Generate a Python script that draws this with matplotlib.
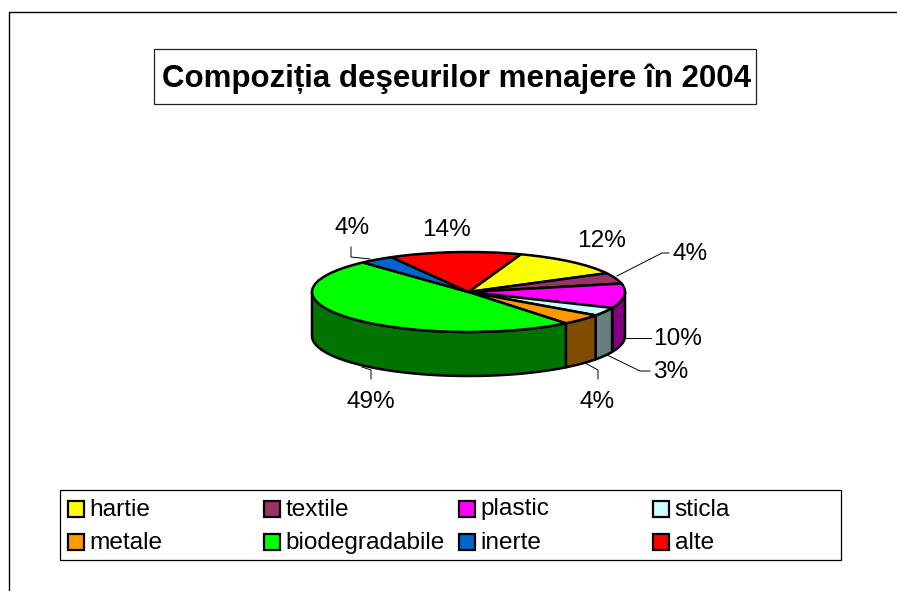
import numpy as np
import matplotlib
matplotlib.use("Agg")
import matplotlib.pyplot as plt
from matplotlib.patches import Rectangle

plt.rcParams['font.family'] = ['Liberation Sans', 'DejaVu Sans']

W, H = 897, 591

title = "Compoziția deşeurilor menajere în 2004"
categories = ["hartie", "textile", "plastic", "sticla",
              "metale", "biodegradabile", "inerte", "alte"]
values = [11.8, 4.4, 9.9, 3.4, 4.4, 48.9, 3.6, 13.6]
colors = ["#FFFF00", "#993366", "#FF00FF", "#CCFFFF",
          "#FF9900", "#00FF00", "#0066CC", "#FF0000"]
side_colors = ["#808000", "#4D1A33", "#800080", "#668080",
               "#804D00", "#007300", "#003366", "#800000"]

# position of the labels, in pixels of the image
label_pos = [(602, 241), (690, 254), (678, 339), (671, 372),
             (597, 402), (371, 402), (352, 228), (447, 230)]
leaders = [None,
           [(617, 276), (662, 253), (669, 253)],
           [(625, 338), (651, 338)],
           [(607, 355), (640, 371), (650, 371)],
           [(585, 363), (598, 370), (598, 379)],
           [(362, 367), (371, 370), (371, 379)],
           [(370, 259), (351, 257), (351, 247)],
           None]

fig = plt.figure(figsize=(W / 100, H / 100), dpi=100)

# overlay in pixel coordinates for frame, title, labels and legend
bg = fig.add_axes([0, 0, 1, 1], zorder=0)
bg.set_xlim(0, W)
bg.set_ylim(H, 0)
bg.axis("off")

over = fig.add_axes([0, 0, 1, 1], zorder=2)
over.set_xlim(0, W)
over.set_ylim(H, 0)
over.axis("off")

bg.plot([9, 9, W], [H, 12, 12], color="black", lw=1)
bg.add_patch(Rectangle((154, 49), 602, 55, fc="white", ec="#222222", lw=0.9))
bg.text(456, 78.5, title, fontsize=22.5, fontweight="bold", ha="center", va="center")

# pie: top ellipse is 313 x 80 px, side is 44 px deep
cx, cy, rx, ry, depth = 468.5, 292, 156.5, 40, 44
ax = fig.add_axes([(cx - rx - 5) / W, 1 - (cy + ry + depth + 5) / H,
                   (2 * rx + 10) / W, (2 * ry + depth + 10) / H], zorder=1)
ax.patch.set_alpha(0)

start = 19.5
d = depth / ry
edges = start + np.cumsum([0] + values) * 3.6
for i in range(len(values)):
    # side wall only on the front half (90..270 deg clockwise from top)
    a0, a1 = max(edges[i], 90), min(edges[i + 1], 270)
    if a1 <= a0:
        continue
    t = np.radians(np.linspace(a0, a1, 80))
    xs = np.concatenate([np.sin(t), np.sin(t[::-1])])
    ys = np.concatenate([np.cos(t), np.cos(t[::-1]) - d])
    ax.fill(xs, ys, fc=side_colors[i], ec="black", lw=1.8, joinstyle="round")

wedges, _ = ax.pie(values, colors=colors, startangle=90 - start, counterclock=False,
                   radius=1, wedgeprops=dict(edgecolor="black", linewidth=1.8))
for w in wedges:
    w.set_clip_on(False)
ax.set_aspect("auto")
ax.set_xlim(-1 - 5 / rx, 1 + 5 / rx)
ax.set_ylim(-1 - d - 5 / ry, 1 + 5 / ry)
ax.axis("off")

# percent labels and leader lines
for v, pos, line in zip(values, label_pos, leaders):
    over.text(pos[0], pos[1], f"{v:.0f}%", fontsize=17.6, ha="center", va="center")
    if line:
        over.plot([p[0] for p in line], [p[1] for p in line], color="black", lw=0.7)

# legend box
over.add_patch(Rectangle((60, 490), 781, 70, fc="white", ec="black", lw=0.9))
col_x = [68, 264, 459, 653]
row_y = [508.5, 542]
for i, name in enumerate(categories):
    x = col_x[i % 4]
    y = row_y[i // 4]
    over.add_patch(Rectangle((x, y - 8), 16, 16, fc=colors[i], ec="black", lw=1.6))
    over.text(x + 21.5, y + 1, name, fontsize=17.6, ha="left", va="center")

fig.savefig("out.png", dpi=100)
